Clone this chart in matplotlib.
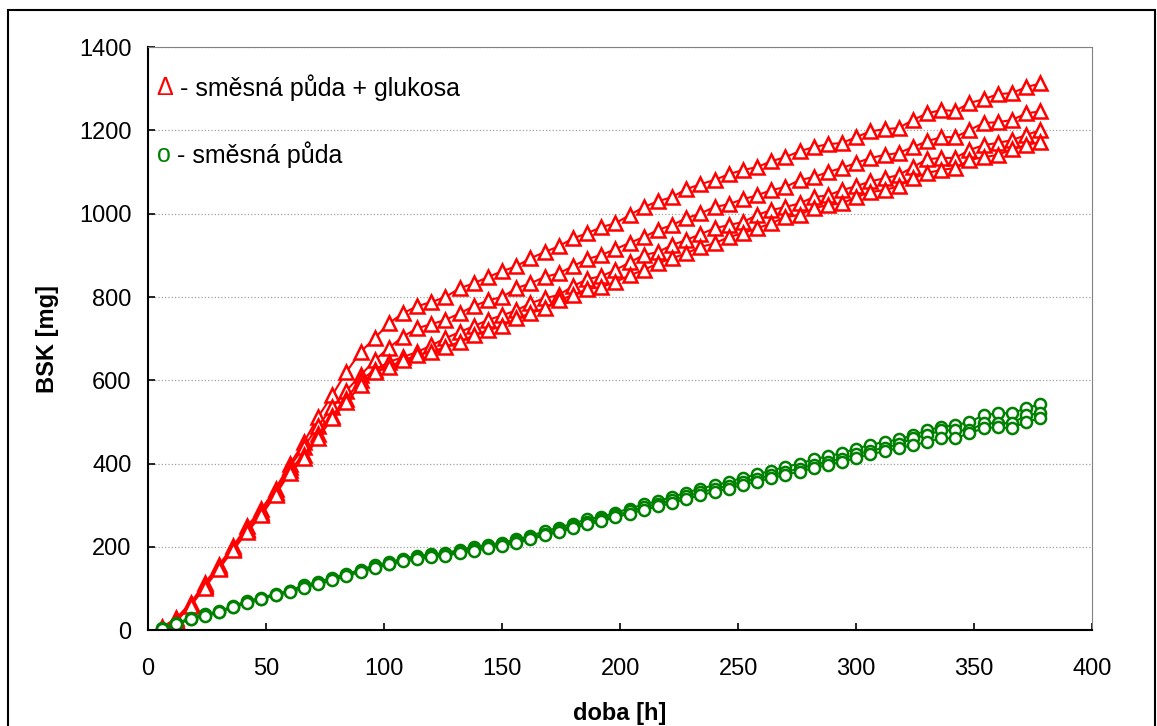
import matplotlib
matplotlib.use("Agg")
import matplotlib.pyplot as plt
from matplotlib.patches import Rectangle

plt.rcParams['font.family'] = ['Liberation Sans', 'DejaVu Sans']

# doba [h]
hours = list(range(6, 384, 6))

# smesna puda + glukosa (4 opakovani)
gluk_1 = [7, 29, 65, 113, 156, 202, 250, 290, 340, 398, 451, 512, 564, 620, 668, 701, 737,
          761, 778, 788, 800, 821, 833, 848, 862, 874, 893, 908, 922, 941, 953, 968, 977, 997,
          1016, 1030, 1040, 1059, 1071, 1081, 1095, 1105, 1112, 1126, 1136, 1150, 1160, 1167,
          1170, 1184, 1198, 1203, 1206, 1225,
          1241, 1249, 1247, 1266, 1275, 1287, 1290, 1304, 1313]
gluk_2 = [5, 25, 62, 108, 152, 198, 243, 283, 333, 392, 440, 490, 535, 575, 612, 648, 678,
          705, 725, 735, 745, 761, 778, 792, 800, 821, 833, 848, 857, 874, 891, 901, 915, 930,
          944, 961, 973, 989, 1001, 1016, 1023, 1035, 1044, 1057, 1064, 1081, 1088, 1100,
          1110, 1122, 1134, 1141, 1146, 1160,
          1174, 1184, 1184, 1201, 1218, 1220, 1225, 1241, 1246]
gluk_3 = [5, 24, 60, 105, 150, 195, 240, 280, 328, 385, 420, 470, 515, 556, 600, 625, 644,
          656, 668, 684, 701, 716, 730, 745, 756, 768, 785, 797, 805, 826, 843, 850, 865, 883,
          901, 908, 925, 937, 951, 965, 973, 980, 997, 1009, 1016, 1025, 1040, 1044,
          1057, 1066, 1078, 1085, 1093, 1112,
          1131, 1134, 1134, 1153, 1165, 1170, 1177, 1189, 1201]
gluk_4 = [4, 22, 58, 102, 147, 192, 236, 276, 325, 378, 413, 461, 509, 548, 588, 620, 632,
          648, 660, 668, 680, 692, 708, 720, 730, 749, 761, 773, 792, 805, 819, 824, 836, 852,
          865, 881, 893, 905, 920, 929, 944, 953, 965, 977, 992, 997, 1013, 1021,
          1025, 1040, 1052, 1057, 1066, 1085,
          1098, 1105, 1110, 1129, 1136, 1141, 1155, 1165, 1172]

# smesna puda (3 opakovani)
puda_1 = [5, 17, 29, 38, 45, 58, 70, 78, 87, 95, 108, 116, 126, 135, 145, 156, 163,
          172, 178, 182, 185, 193, 200, 205, 210, 218, 226, 238, 246, 256, 266, 272, 282, 292,
          302, 310, 320, 330, 340, 348, 356, 366, 374, 383, 392, 400, 410, 418,
          425, 436, 445, 452, 458, 468,
          480, 488, 492, 500, 516, 521, 521, 533, 543]
puda_2 = [4, 15, 27, 36, 44, 56, 68, 76, 85, 93, 104, 113, 122, 132, 142, 152, 160,
          168, 174, 178, 182, 188, 195, 200, 206, 214, 222, 232, 240, 250, 259, 266, 276, 285,
          295, 303, 312, 321, 331, 339, 347, 356, 364, 372, 380, 388, 397, 405,
          412, 422, 431, 438, 446, 461,
          468, 480, 480, 480, 497, 497, 497, 516, 521]
puda_3 = [3, 14, 26, 35, 43, 55, 66, 75, 84, 92, 102, 111, 120, 130, 140, 150, 158,
          165, 171, 175, 179, 185, 191, 197, 203, 210, 218, 228, 236, 245, 254, 262, 271, 280,
          289, 297, 306, 315, 324, 332, 340, 349, 357, 365, 373, 381, 389, 397,
          404, 414, 422, 430, 437, 444,
          452, 461, 461, 473, 485, 488, 485, 500, 509]

RED = '#FF0000'
GREEN = '#008000'

fig = plt.figure(figsize=(11.57, 7.26), dpi=100)
ax = fig.add_axes([0.128, 0.132, 0.816, 0.803])

for s in [gluk_1, gluk_2, gluk_3, gluk_4]:
    ax.plot(hours, s, color=RED, lw=1.5, marker='^', markersize=10,
            markerfacecolor='white', markeredgecolor=RED, markeredgewidth=1.8)
for s in [puda_1, puda_2, puda_3]:
    ax.plot(hours, s, color=GREEN, lw=1.5, marker='o', markersize=8,
            markerfacecolor='white', markeredgecolor=GREEN, markeredgewidth=1.8)

ax.set_xlim(0, 400)
ax.set_ylim(0, 1400)
ax.set_xticks(range(0, 401, 50))
ax.set_yticks(range(0, 1401, 200))
ax.yaxis.grid(True, color='#A0A0A0', linestyle=':', linewidth=0.9)
ax.set_axisbelow(True)

for side in ['top', 'right']:
    ax.spines[side].set_color('#808080')
for side in ['left', 'bottom']:
    ax.spines[side].set_color('black')
    ax.spines[side].set_linewidth(1.5)

ax.tick_params(direction='in', length=5, width=1.2, labelsize=17)
ax.tick_params(axis='x', pad=20)
ax.tick_params(axis='y', pad=12)

ax.set_xlabel('doba [h]', fontsize=17, fontweight='bold', labelpad=16)
ax.set_ylabel('BSK [mg]', fontsize=17, fontweight='bold', labelpad=14)

# popisky serii
t1 = ax.text(0.009, 0.93, 'Δ', color=RED, fontsize=18, transform=ax.transAxes,
             va='center', ha='left')
ax.annotate(' - směsná půda + glukosa', xy=(1, 0.5), xycoords=t1, va='center',
            ha='left', fontsize=18, color='black')
t2 = ax.text(0.009, 0.815, 'o', color=GREEN, fontsize=18, transform=ax.transAxes,
             va='center', ha='left')
ax.annotate(' - směsná půda', xy=(1, 0.5), xycoords=t2, va='center',
            ha='left', fontsize=18, color='black')

# ramecek kolem grafu
fig.patches.append(Rectangle((8 / 1157, -0.01), 1147 / 1157, 1 - 10 / 726 + 0.01,
                             transform=fig.transFigure, fill=False,
                             edgecolor='black', linewidth=1.5))

fig.savefig('out.png', dpi=100)
